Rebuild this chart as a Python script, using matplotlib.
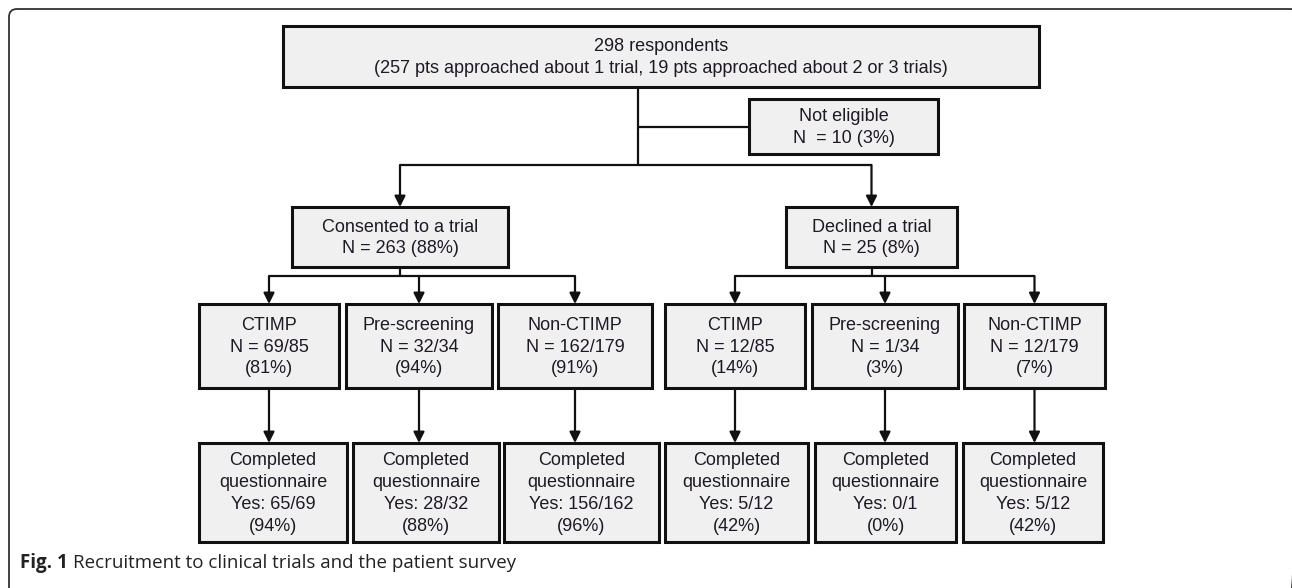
import matplotlib
matplotlib.use('Agg')
import matplotlib.pyplot as plt
from matplotlib.patches import Rectangle, FancyBboxPatch, FancyArrowPatch

# data
n_total = 298
n_one_trial = 257
n_multi_trial = 19
not_eligible_n = 10
not_eligible_pct = 3
arms = ["Consented to a trial", "Declined a trial"]
arm_n = [263, 25]
arm_pct = [88, 8]
trial_types = ["CTIMP", "Pre-screening", "Non-CTIMP"]
type_totals = [85, 34, 179]
type_n = [[69, 32, 162], [12, 1, 12]]
type_pct = [[81, 94, 91], [14, 3, 7]]
done_n = [[65, 28, 156], [5, 0, 5]]
done_pct = [[94, 88, 96], [42, 0, 42]]
caption_bold = "Fig. 1"
caption = "Recruitment to clinical trials and the patient survey"

# layout in pixels (x0, y0, x1, y1)
top_box = (283, 26, 1039, 87)
ne_box = (749, 99, 938, 154)
trunk_x = 638
split_y = 165
arm_boxes = [(292, 207, 508, 267), (786, 207, 957, 267)]
branch_y = 276
row3_boxes = [[(199, 304, 339, 388), (346, 304, 492, 388), (498, 304, 652, 388)],
              [(665, 304, 805, 388), (812, 304, 958, 388), (964, 304, 1105, 388)]]
row4_boxes = [[(199, 443, 347, 542), (353, 443, 499, 542), (504, 443, 659, 542)],
              [(665, 443, 808, 542), (815, 443, 956, 542), (963, 443, 1103, 542)]]

FONT = ['Liberation Sans Narrow', 'Liberation Sans', 'DejaVu Sans']
TXT = '#1f1826'

fig = plt.figure(figsize=(12.92, 5.88), dpi=100)
ax = fig.add_axes([0, 0, 1, 1])
ax.set_xlim(0, 1292)
ax.set_ylim(588, 0)
ax.axis('off')

# outer frame (right and bottom run off the image)
ax.add_patch(FancyBboxPatch((9, 9), 1283 + 6, 590, boxstyle="round,pad=0,rounding_size=8",
                            fc='none', ec='#333333', lw=1.3, clip_on=False))


def box(b, text, fs=13):
    x0, y0, x1, y1 = b
    ax.add_patch(Rectangle((x0, y0), x1 - x0, y1 - y0, fc='#f0f0f0', ec='#111111', lw=2.2, zorder=2))
    ax.text((x0 + x1) / 2, (y0 + y1) / 2 + 1, text, ha='center', va='center', fontsize=fs,
            family=FONT, color=TXT, linespacing=1.36, zorder=3)


def line(xs, ys):
    ax.plot(xs, ys, color='#111111', lw=1.6, solid_capstyle='butt', zorder=1)


def arrow(x, y0, y1):
    ax.add_patch(FancyArrowPatch((x, y0), (x, y1), arrowstyle='-|>', mutation_scale=16,
                                 color='#111111', lw=1.6, shrinkA=0, shrinkB=0, zorder=1))


box(top_box, "%d respondents\n(%d pts approached about 1 trial, %d pts approached about 2 or 3 trials)"
    % (n_total, n_one_trial, n_multi_trial))
box(ne_box, "Not eligible\nN  = %d (%d%%)" % (not_eligible_n, not_eligible_pct))

line([trunk_x, trunk_x], [top_box[3], split_y])
line([trunk_x, ne_box[0]], [(ne_box[1] + ne_box[3]) / 2] * 2)
arm_x = [(b[0] + b[2]) / 2 for b in arm_boxes]
line([arm_x[0], arm_x[1]], [split_y, split_y])

for i, name in enumerate(arms):
    b = arm_boxes[i]
    arrow(arm_x[i], split_y, b[1])
    box(b, "%s\nN = %d (%d%%)" % (name, arm_n[i], arm_pct[i]))
    xs = [(r[0] + r[2]) / 2 for r in row3_boxes[i]]
    line([arm_x[i], arm_x[i]], [b[3], branch_y])
    line([xs[0], xs[-1]], [branch_y, branch_y])
    for j, t in enumerate(trial_types):
        arrow(xs[j], branch_y, row3_boxes[i][j][1])
        box(row3_boxes[i][j], "%s\nN = %d/%d\n(%d%%)" % (t, type_n[i][j], type_totals[j], type_pct[i][j]))
        arrow(xs[j], row3_boxes[i][j][3], row4_boxes[i][j][1])
        box(row4_boxes[i][j], "Completed\nquestionnaire\nYes: %d/%d\n(%d%%)"
            % (done_n[i][j], type_n[i][j], done_pct[i][j]))

t = ax.text(20, 563, caption_bold + " ", ha='left', va='center', fontsize=13.5,
            family=['Open Sans', 'DejaVu Sans'], fontweight='bold', color='#222222')
fig.canvas.draw()
bb = t.get_window_extent().transformed(ax.transData.inverted())
ax.text(bb.x1, 563, caption, ha='left', va='center', fontsize=13.5,
        family=['Open Sans', 'DejaVu Sans'], color='#222222')

fig.savefig('out.png', dpi=100)
